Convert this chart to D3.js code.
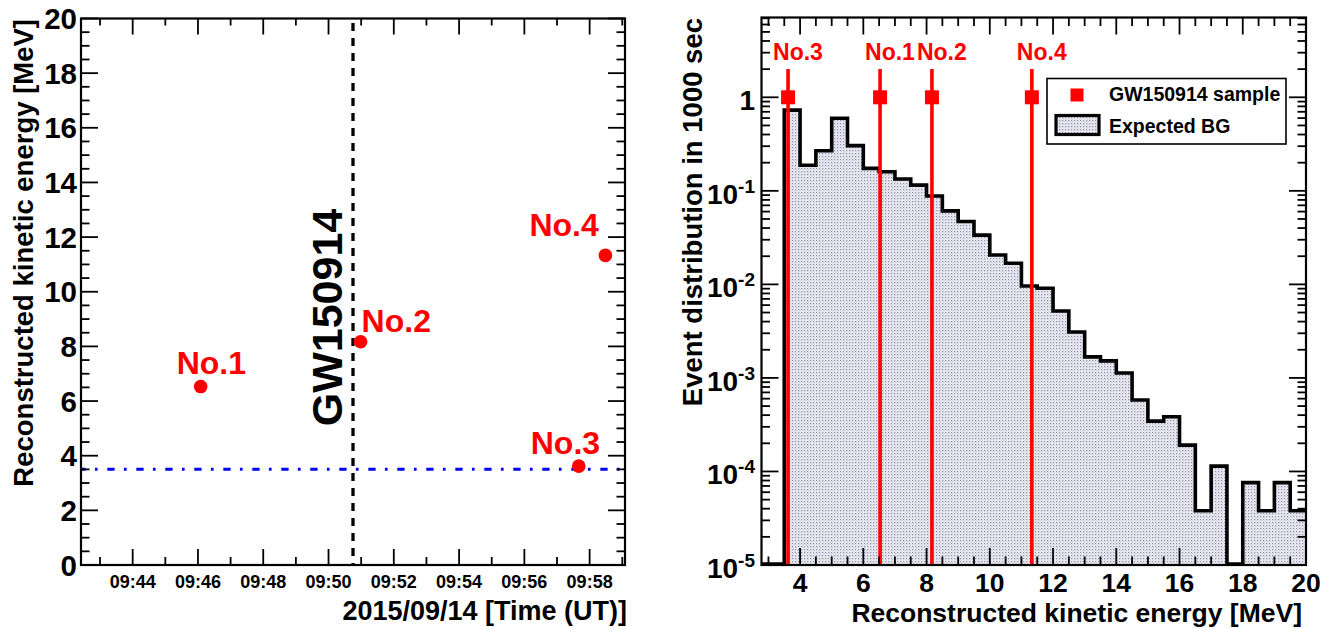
<!DOCTYPE html>
<html><head><meta charset="utf-8">
<script src="https://cdn.jsdelivr.net/npm/d3@7"></script>
<style>
body{margin:0;background:#fff}
text{font-family:"Liberation Sans",Arial,Helvetica,sans-serif;font-weight:bold}
</style>
</head><body>
<svg id="c" width="1335" height="629"></svg>
<script>
// ---------------- DATA ----------------
const eventLabels   = ["No.1", "No.2", "No.3", "No.4"];
const eventTimes    = ["09:46:05", "09:50:59", "09:57:40", "09:58:29"]; // UT, 2015/09/14
const eventEnergies = [6.53, 8.17, 3.62, 11.33];                         // MeV
const gwLabel = "GW150914";
const gwTime = "09:50:45";
const timeRange = ["09:42:25", "09:59:05"];
const leftEnergyRange = [0, 20];
const thresholdEnergy = 3.5;

// background histogram (0.5 MeV bins, lower edges)
const bgBinLow = [3.5,4.0,4.5,5.0,5.5,6.0,6.5,7.0,7.5,8.0,8.5,9.0,9.5,10.0,10.5,11.0,11.5,
                  12.0,12.5,13.0,13.5,14.0,14.5,15.0,15.5,16.0,16.5,17.0,17.5,18.0,18.5,19.0,19.5];
const bgValues = [0.73,0.188,0.268,0.596,0.304,0.174,0.160,0.134,0.115,0.088,0.061,0.047,0.0336,
                  0.0206,0.0168,0.0096,0.0091,0.0052,0.0031,0.00168,0.00152,0.00113,0.00058,
                  0.000345,0.000384,0.000191,0.000038,0.000114,0,0.000076,0.000038,0.000076,0.000038];
const bgBinWidth = 0.5;
const rightEnergyRange = [2.78, 20];
const rightYRange = [1e-5, 7.13];
const sampleMarkerValue = 1;
const legendLabels = ["GW150914 sample", "Expected BG"];
const rightXTickLabels = ["4","6","8","10","12","14","16","18","20"];
const rightYTickExps = [-5,-4,-3,-2,-1,0];

// ---------------- LAYOUT ----------------
const L = {x0:81, x1:625, y0:18.5, y1:565};
const R = {x0:761.5, x1:1306, y0:17.5, y1:565};
// label offsets relative to each point (left panel) [dx of text start, dy of baseline]
const leftLabelOffsets = [[-24,-13],[1,-10],[-48,-12],[-76,-19]];

const svg = d3.select("#c");
const defs = svg.append("defs");
const pat = defs.append("pattern").attr("id","dots").attr("patternUnits","userSpaceOnUse")
  .attr("width",3).attr("height",3);
pat.append("rect").attr("width",3).attr("height",3).attr("fill","#eaeaf1");
pat.append("rect").attr("width",1.2).attr("height",1.2).attr("fill","#9090b2");
pat.append("rect").attr("x",1.5).attr("y",1.5).attr("width",0.8).attr("height",0.8).attr("fill","#babad0");

defs.append("clipPath").attr("id","clipR").append("rect")
  .attr("x",R.x0).attr("y",R.y0).attr("width",R.x1-R.x0).attr("height",R.y1-R.y0);

function toDate(s){ const [h,m,sec]=s.split(":").map(Number); return new Date(Date.UTC(2015,8,14,h,m,sec)); }

function ticks(g, pos, orient, len, frame){
  pos.forEach(p=>{
    let l;
    if(orient==="bottom") l=[p,frame.y1,p,frame.y1-len];
    if(orient==="top")    l=[p,frame.y0,p,frame.y0+len];
    if(orient==="left")   l=[frame.x0,p,frame.x0+len,p];
    if(orient==="right")  l=[frame.x1,p,frame.x1-len,p];
    g.append("line").attr("x1",l[0]).attr("y1",l[1]).attr("x2",l[2]).attr("y2",l[3])
      .attr("stroke","#000").attr("stroke-width",1.8);
  });
}

// ================= LEFT PANEL =================
const xL = d3.scaleUtc().domain(timeRange.map(toDate)).range([L.x0, L.x1]);
const yL = d3.scaleLinear().domain(leftEnergyRange).range([L.y1, L.y0]);
const gL = svg.append("g");

// threshold line
gL.append("line").attr("x1",L.x0).attr("x2",L.x1)
  .attr("y1",yL(thresholdEnergy)).attr("y2",yL(thresholdEnergy))
  .attr("stroke","#0000ff").attr("stroke-width",3)
  .attr("stroke-dasharray","7.3 9.3 2.7 9.7").attr("stroke-dashoffset",2.7);

// GW line
const gwX = xL(toDate(gwTime));
gL.append("line").attr("x1",gwX).attr("x2",gwX).attr("y1",23).attr("y2",L.y1)
  .attr("stroke","#000").attr("stroke-width",3.3).attr("stroke-dasharray","8 7");
gL.append("text").attr("transform",`translate(${gwX-11},317.5) rotate(-90)`)
  .attr("text-anchor","middle").attr("font-size",43).attr("fill","#000").text(gwLabel);

// frame
gL.append("rect").attr("x",L.x0).attr("y",L.y0).attr("width",L.x1-L.x0).attr("height",L.y1-L.y0)
  .attr("fill","none").attr("stroke","#000").attr("stroke-width",2.2);

// ticks
const minutes = d3.utcMinute.range(toDate(timeRange[0]), toDate(timeRange[1]));
const majMin = minutes.filter(d=>d.getUTCMinutes()%2===0);
const minMin = minutes.filter(d=>d.getUTCMinutes()%2===1);
ticks(gL, majMin.map(xL), "bottom", 16, L);
ticks(gL, minMin.map(xL), "bottom", 8, L);
ticks(gL, majMin.map(xL), "top", 16, L);
ticks(gL, minMin.map(xL), "top", 7, L);
const yMaj = yL.ticks(10), yMin = yL.ticks(40).filter(v=>!yMaj.includes(v));
["left","right"].forEach(o=>{
  ticks(gL, yMaj.map(yL), o, 17, L);
  ticks(gL, yMin.map(yL), o, 8.5, L);
});
const fmt = d3.utcFormat("%H:%M");
majMin.forEach(d=>{
  gL.append("text").attr("x",xL(d)).attr("y",587.5).attr("text-anchor","middle")
    .attr("font-size",18).text(fmt(d));
});
yMaj.forEach(v=>{
  gL.append("text").attr("x",77).attr("y",yL(v)+10.5).attr("text-anchor","end")
    .attr("font-size",29.5).text(v);
});
gL.append("text").attr("x",627).attr("y",620).attr("text-anchor","end")
  .attr("font-size",27).text("2015/09/14 [Time (UT)]");
gL.append("text").attr("transform","translate(33,19) rotate(-90)").attr("text-anchor","end")
  .attr("font-size",27.5).text("Reconstructed kinetic energy [MeV]");

// points
eventLabels.forEach((lab,i)=>{
  const px = xL(toDate(eventTimes[i])), py = yL(eventEnergies[i]);
  gL.append("circle").attr("cx",px).attr("cy",py).attr("r",6.8).attr("fill","#ff0000");
  gL.append("text").attr("x",px+leftLabelOffsets[i][0]).attr("y",py+leftLabelOffsets[i][1])
    .attr("font-size",32).attr("fill","#ff0000").text(lab);
});

// ================= RIGHT PANEL =================
const xR = d3.scaleLinear().domain(rightEnergyRange).range([R.x0, R.x1]);
const yR = d3.scaleLog().domain(rightYRange).range([R.y1, R.y0]);
const yv = v => v>0 ? yR(v) : R.y1;
const gR = svg.append("g");
const gRc = gR.append("g").attr("clip-path","url(#clipR)");

// histogram fill
let fillPts = [[xR(bgBinLow[0]), R.y1]];
bgBinLow.forEach((b,i)=>{
  fillPts.push([xR(b), yv(bgValues[i])]);
  fillPts.push([xR(b+bgBinWidth), yv(bgValues[i])]);
});
fillPts.push([xR(bgBinLow[bgBinLow.length-1]+bgBinWidth), R.y1]);
gRc.append("path").attr("d", d3.line()(fillPts)+"Z").attr("fill","url(#dots)").attr("stroke","none");

// histogram outline
let linePts = [[xR(rightEnergyRange[0]), R.y1-1], [xR(bgBinLow[0]), R.y1-1]];
bgBinLow.forEach((b,i)=>{
  const yy = bgValues[i]>0 ? yR(bgValues[i]) : R.y1-1;
  linePts.push([xR(b), yy]);
  linePts.push([xR(b+bgBinWidth), yy]);
});
gRc.append("path").attr("d", d3.line()(linePts)).attr("fill","none")
  .attr("stroke","#000").attr("stroke-width",3.6).attr("stroke-linejoin","miter");

// red sample lines
eventEnergies.forEach((e,i)=>{
  const px = xR(e);
  gR.append("line").attr("x1",px).attr("x2",px).attr("y1",69).attr("y2",R.y1)
    .attr("stroke","#ff0000").attr("stroke-width",3.6);
  gR.append("rect").attr("x",px-7).attr("y",yR(sampleMarkerValue)-7).attr("width",14).attr("height",14)
    .attr("fill","#ff0000");
  gR.append("text").attr("x",px-15).attr("y",60).attr("font-size",23).attr("fill","#ff0000")
    .text(eventLabels[i]);
});

// frame
gR.append("rect").attr("x",R.x0).attr("y",R.y0).attr("width",R.x1-R.x0).attr("height",R.y1-R.y0)
  .attr("fill","none").attr("stroke","#000").attr("stroke-width",2.2);

// x ticks
const xMajR = rightXTickLabels.map(Number);
const xMinR = d3.range(3, 20.01, 0.5).filter(v=>!xMajR.includes(v));
["bottom","top"].forEach(o=>{
  ticks(gR, xMajR.map(xR), o, 17, R);
  ticks(gR, xMinR.map(xR), o, 8.5, R);
});
rightXTickLabels.forEach(t=>{
  gR.append("text").attr("x",xR(+t)).attr("y",591.5).attr("text-anchor","middle")
    .attr("font-size",26.5).text(t);
});
// y log ticks
const yMajR = rightYTickExps.map(e=>Math.pow(10,e));
let yMinR = [];
rightYTickExps.forEach(e=>{ for(let k=2;k<=9;k++){ const v=k*Math.pow(10,e); if(v<=rightYRange[1]) yMinR.push(v);} });
["left","right"].forEach(o=>{
  ticks(gR, yMajR.map(yR), o, 17, R);
  ticks(gR, yMinR.map(yR), o, 8.5, R);
});
rightYTickExps.forEach(e=>{
  const yy = yR(Math.pow(10,e))+13;
  const t = gR.append("text").attr("x",755).attr("y",yy).attr("text-anchor","end").attr("font-size",28);
  if(e===0){ t.text("1"); }
  else {
    t.append("tspan").text("10");
    t.append("tspan").attr("font-size",19).attr("dy",-11).text(String(e));
  }
});
gR.append("text").attr("x",1302).attr("y",621.5).attr("text-anchor","end")
  .attr("font-size",26.5).text("Reconstructed kinetic energy [MeV]");
gR.append("text").attr("transform","translate(702,18) rotate(-90)").attr("text-anchor","end")
  .attr("font-size",27.5).text("Event distribution in 1000 sec");

// legend
const lg = gR.append("g");
lg.append("rect").attr("x",1047).attr("y",78.5).attr("width",239).attr("height",65.5)
  .attr("fill","#fff").attr("stroke","#000").attr("stroke-width",1.6);
lg.append("rect").attr("x",1070.5).attr("y",88.5).attr("width",13).attr("height",13).attr("fill","#ff0000");
lg.append("text").attr("x",1109).attr("y",100.5).attr("font-size",19.5).text(legendLabels[0]);
lg.append("rect").attr("x",1056).attr("y",115.5).attr("width",43).attr("height",19)
  .attr("fill","url(#dots)").attr("stroke","#000").attr("stroke-width",3.2);
lg.append("text").attr("x",1109).attr("y",132.5).attr("font-size",19.5).text(legendLabels[1]);
</script>
</body></html>
